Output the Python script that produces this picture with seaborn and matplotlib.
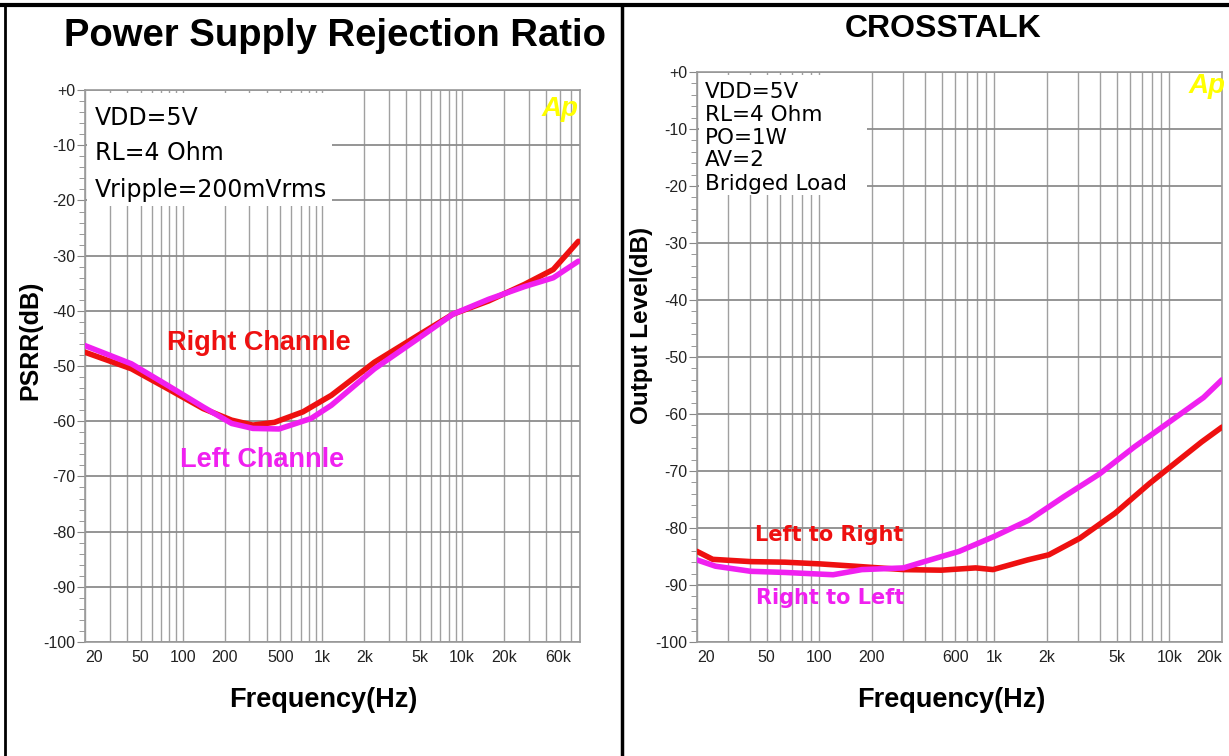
import numpy as np
import pandas as pd
import matplotlib
matplotlib.use("Agg")
from matplotlib import pyplot as plt
from matplotlib.patches import Rectangle
from matplotlib.lines import Line2D
import seaborn as sns

# PSRR data (dB vs Hz)
psrr_right_f = [20, 43, 78, 140, 224, 318, 454, 726, 1160, 2360, 4800, 8600, 15500, 28000, 45000, 68000]
psrr_right_db = [-47.5, -50.5, -54.1, -57.7, -59.8, -60.7, -60.2, -58.3, -55.3, -49.3, -44.5, -40.6, -38.2, -35.2, -32.5, -27.4]
psrr_left_f = [20, 43, 78, 140, 224, 318, 490, 830, 1160, 2360, 4800, 8600, 15500, 28000, 45000, 68000]
psrr_left_db = [-46.3, -49.6, -53.5, -57.4, -60.4, -61.3, -61.4, -59.5, -57.1, -50.5, -45.1, -40.6, -37.9, -35.6, -34.0, -31.0]

# Crosstalk data
xt_lr_f = [20, 24.6, 40.6, 63.7, 101, 159, 303, 498, 782, 983, 1550, 2050, 3080, 4900, 7700, 12200, 15300, 20000]
xt_lr_db = [-84.1, -85.5, -85.9, -86.0, -86.3, -86.7, -87.3, -87.4, -87.0, -87.3, -85.6, -84.7, -81.8, -77.4, -72.2, -67.3, -64.9, -62.3]
xt_rl_f = [20, 25.5, 40.6, 63.7, 120, 175, 303, 398, 630, 996, 1580, 2500, 4000, 6300, 9900, 15700, 20000]
xt_rl_db = [-85.6, -86.7, -87.6, -87.8, -88.2, -87.3, -87.0, -85.9, -84.1, -81.5, -78.6, -74.5, -70.5, -65.8, -61.5, -57.1, -54.0]

psrr_xticks = [20, 50, 100, 200, 500, 1000, 2000, 5000, 10000, 20000, 60000]
psrr_xlabels = ["20", "50", "100", "200", "500", "1k", "2k", "5k", "10k", "20k", "60k"]
xt_xticks = [20, 50, 100, 200, 600, 1000, 2000, 5000, 10000, 20000]
xt_xlabels = ["20", "50", "100", "200", "600", "1k", "2k", "5k", "10k", "20k"]
yticks = list(range(0, -101, -10))
ylabels = ["+0"] + [str(v) for v in yticks[1:]]

RED = "#ee1010"
MAG = "#f020f0"

sns.set_style("white")
plt.rcParams['font.family'] = ['Liberation Sans', 'DejaVu Sans']
plt.rcParams['text.color'] = 'black'

fig = plt.figure(figsize=(12.29, 7.56), dpi=100)
ax1 = fig.add_axes([0.0692, 0.1508, 0.4028, 0.730])
ax2 = fig.add_axes([0.5671, 0.1508, 0.4272, 0.754])

psrr = pd.concat([
    pd.DataFrame({"f": psrr_right_f, "db": psrr_right_db, "ch": "Right"}),
    pd.DataFrame({"f": psrr_left_f, "db": psrr_left_db, "ch": "Left"}),
])
xt = pd.concat([
    pd.DataFrame({"f": xt_lr_f, "db": xt_lr_db, "ch": "LR"}),
    pd.DataFrame({"f": xt_rl_f, "db": xt_rl_db, "ch": "RL"}),
])

sns.lineplot(data=psrr, x="f", y="db", hue="ch", palette={"Right": RED, "Left": MAG},
             lw=4.0, legend=False, ax=ax1, sort=False, zorder=3)
sns.lineplot(data=xt, x="f", y="db", hue="ch", palette={"LR": RED, "RL": MAG},
             lw=4.0, legend=False, ax=ax2, sort=False, zorder=3)


def style_axes(ax, xlim, xticks, xlabels):
    ax.set_xscale("log")
    ax.set_xlim(*xlim)
    ax.set_ylim(-100, 0)
    ax.set_axisbelow(True)
    ax.grid(True, which="major", axis="y", color="#8c8c8c", lw=1.3)
    ax.grid(True, which="both", axis="x", color="#a0a0a0", lw=1.0)
    ax.xaxis.set_minor_locator(matplotlib.ticker.LogLocator(base=10, subs=np.arange(2, 10)))
    ax.xaxis.set_minor_formatter(matplotlib.ticker.NullFormatter())
    ax.set_xticks(xticks)
    ax.set_xticklabels(xlabels)
    ax.set_yticks(yticks)
    ax.set_yticklabels(ylabels)
    ax.yaxis.set_minor_locator(matplotlib.ticker.MultipleLocator(2))
    ax.tick_params(axis="x", which="both", length=0, pad=6, labelsize=11.5, labelcolor="#222222")
    ax.tick_params(axis="y", which="major", length=6, color="#888888", direction="out",
                   labelsize=11.5, labelcolor="#222222", pad=1, left=True)
    ax.tick_params(axis="y", which="minor", length=4, color="#888888", direction="out", left=True)
    xl = ax.get_xticklabels()
    xl[0].set_ha("left")
    xl[-1].set_ha("right")
    for s in ax.spines.values():
        s.set_color("#9a9a9a")
        s.set_linewidth(1.2)
    ax.set_xlabel("")
    ax.set_ylabel("")


style_axes(ax1, (20, 70000), psrr_xticks, psrr_xlabels)
style_axes(ax2, (20, 20000), xt_xticks, xt_xlabels)

# white boxes behind condition text
ax1.add_patch(Rectangle((0.003, 0.79), 0.495, 0.205, transform=ax1.transAxes,
                        facecolor="white", edgecolor="none", zorder=1))
ax2.add_patch(Rectangle((0.003, 0.785), 0.32, 0.21, transform=ax2.transAxes,
                        facecolor="white", edgecolor="none", zorder=1))

cond_font = ['DejaVu Sans']
for txt, y in [("VDD=5V", 0.949), ("RL=4 Ohm", 0.886), ("Vripple=200mVrms", 0.819)]:
    ax1.text(0.02, y, txt, transform=ax1.transAxes, fontsize=17, family=cond_font,
             va="center", ha="left", zorder=4)
for txt, y in [("VDD=5V", 0.965), ("RL=4 Ohm", 0.925), ("PO=1W", 0.884),
               ("AV=2", 0.846), ("Bridged Load", 0.804)]:
    ax2.text(0.015, y, txt, transform=ax2.transAxes, fontsize=15.5, family=cond_font,
             va="center", ha="left", zorder=4)

ax1.text(0.352, 0.542, "Right Channle", transform=ax1.transAxes, color=RED, fontsize=19.5,
         fontweight="bold", ha="center", va="center", zorder=4)
ax1.text(0.358, 0.330, "Left Channle", transform=ax1.transAxes, color=MAG, fontsize=19.5,
         fontweight="bold", ha="center", va="center", zorder=4)
ax2.text(0.251, 0.188, "Left to Right", transform=ax2.transAxes, color=RED, fontsize=15,
         fontweight="bold", family=cond_font, ha="center", va="center", zorder=4)
ax2.text(0.253, 0.077, "Right to Left", transform=ax2.transAxes, color=MAG, fontsize=15,
         fontweight="bold", family=cond_font, ha="center", va="center", zorder=4)

ax1.text(0.96, 0.965, "Ap", transform=ax1.transAxes, color="#ffff00", fontsize=20,
         fontweight="bold", fontstyle="italic", ha="center", va="center", zorder=4)
ax2.text(0.971, 0.975, "Ap", transform=ax2.transAxes, color="#ffff00", fontsize=20,
         fontweight="bold", fontstyle="italic", ha="center", va="center", zorder=4)

fig.text(0.2726, 0.953, "Power Supply Rejection Ratio", fontsize=27.5, fontweight="bold",
         ha="center", va="center")
fig.text(0.767, 0.962, "CROSSTALK", fontsize=23, fontweight="bold", ha="center", va="center")
fig.text(0.263, 0.074, "Frequency(Hz)", fontsize=19.5, fontweight="bold", ha="center", va="center")
fig.text(0.774, 0.074, "Frequency(Hz)", fontsize=19.5, fontweight="bold", ha="center", va="center")
fig.text(0.0244, 0.55, "PSRR(dB)", fontsize=18, fontweight="bold", rotation=90,
         ha="center", va="center")
fig.text(0.522, 0.57, "Output Level(dB)", fontsize=17.5, fontweight="bold", rotation=90,
         ha="center", va="center")

# outer frame lines
fig.add_artist(Line2D([0, 1], [0.9935, 0.9935], color="black", lw=3, transform=fig.transFigure))
fig.add_artist(Line2D([0.004, 0.004], [0, 0.9935], color="black", lw=2, transform=fig.transFigure))
fig.add_artist(Line2D([0.506, 0.506], [0, 0.9935], color="black", lw=2.5, transform=fig.transFigure))

fig.savefig("out.png", dpi=100)
